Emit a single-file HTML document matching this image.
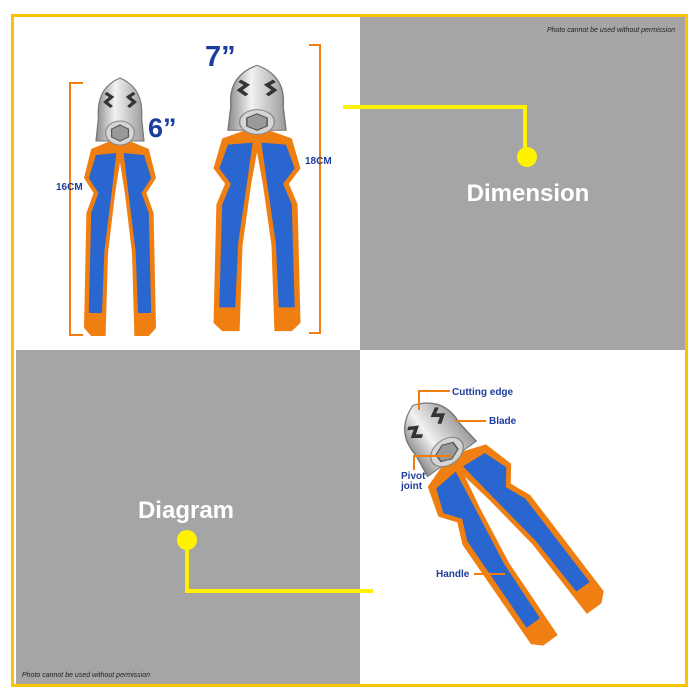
<!DOCTYPE html>
<html><head><style>
html,body{margin:0;padding:0;background:#fff;width:700px;height:700px;overflow:hidden}
svg text{font-family:"Liberation Sans",sans-serif}
</style></head><body>
<svg width="700" height="700" viewBox="0 0 700 700" xmlns="http://www.w3.org/2000/svg">
<defs>
<linearGradient id="steel" x1="0" y1="0" x2="1" y2="0">
<stop offset="0" stop-color="#8a8a8a"/><stop offset="0.4" stop-color="#f2f2f2"/><stop offset="1" stop-color="#9a9a9a"/>
</linearGradient>
<g id="plier">
<path d="M-4,6 L-24,16 L-30,45 L-22,60 L-28,80 L-30,195 L-24,203 L-12,203 L-10,120 L-4,60 L2,14 Z" fill="#f07f12"/>
<path d="M-20,22 L-26,45 L-18,60 L-24,80 L-26,180 L-15,180 L-13,118 L-7,60 L-3,20 Z" fill="#2a66cf"/>
<path d="M4,6 L24,16 L30,45 L22,60 L28,80 L30,195 L24,203 L12,203 L10,120 L4,60 L-2,14 Z" fill="#f07f12"/>
<path d="M20,22 L26,45 L18,60 L24,80 L26,180 L15,180 L13,118 L7,60 L3,20 Z" fill="#2a66cf"/>
<path d="M-18,-15 Q-20,-45 0,-55 Q20,-45 18,-15 L20,8 L-20,8 Z" fill="url(#steel)" stroke="#777" stroke-width="1"/>
<path d="M-12,-40 l5,4 l-5,5 l5,5 M12,-40 l-5,4 l5,5 l-5,5" stroke="#333" stroke-width="3" fill="none"/>
<circle cx="0" cy="0" r="12" fill="#d5d5d5" stroke="#888"/>
<polygon points="0,-8 7,-4 7,4 0,8 -7,4 -7,-4" fill="#999" stroke="#555"/>
</g>
</defs>
<rect x="0" y="0" width="700" height="700" fill="#fff"/>
<rect x="360" y="16" width="325" height="334" fill="#a6a5a6"/>
<rect x="16" y="350" width="344" height="334" fill="#a6a5a6"/>
<rect x="12.5" y="15.5" width="674" height="670" fill="none" stroke="#fcc400" stroke-width="3"/>
<text x="675" y="32" font-size="7" font-style="italic" fill="#222" text-anchor="end">Photo cannot be used without permission</text>
<text x="22" y="677" font-size="7" font-style="italic" fill="#222">Photo cannot be used without permission</text>

<path d="M83,83 H70 V335 H83" fill="none" stroke="#f07f12" stroke-width="2"/>
<path d="M309,45 H320 V333 H309" fill="none" stroke="#f07f12" stroke-width="2"/>
<text x="56" y="190" font-size="10" font-weight="bold" fill="#1c3d9c">16CM</text>
<text x="305" y="164" font-size="10" font-weight="bold" fill="#1c3d9c">18CM</text>
<g transform="translate(120,133) scale(1.2,1)"><use href="#plier"/></g>
<g transform="translate(257,122) scale(1.45,1.03)"><use href="#plier"/></g>
<text x="148" y="137" font-size="27" font-weight="bold" fill="#1c3d9c">6”</text>
<text x="205" y="66" font-size="29" font-weight="bold" fill="#1c3d9c">7”</text>

<path d="M343,107 H525 V155" fill="none" stroke="#fff200" stroke-width="4"/>
<circle cx="527" cy="157" r="10" fill="#fff200"/>
<text x="528" y="201" font-size="24" font-weight="bold" fill="#fff" text-anchor="middle">Dimension</text>
<path d="M187,540 V591 H373" fill="none" stroke="#fff200" stroke-width="4"/>
<circle cx="187" cy="540" r="10" fill="#fff200"/>
<text x="186" y="518" font-size="24" font-weight="bold" fill="#fff" text-anchor="middle">Diagram</text>

<g transform="translate(447,452) rotate(-36) scale(1.5,1.05)"><use href="#plier"/></g>
<path d="M450,391 H419 V410" fill="none" stroke="#f07f12" stroke-width="2"/>
<path d="M486,421 H455" fill="none" stroke="#f07f12" stroke-width="2"/>
<path d="M414,470 V456 H452" fill="none" stroke="#f07f12" stroke-width="2"/>
<path d="M474,574 H505" fill="none" stroke="#f07f12" stroke-width="2"/>
<text x="452" y="395" font-size="10" font-weight="bold" fill="#1c3d9c">Cutting edge</text>
<text x="489" y="424" font-size="10" font-weight="bold" fill="#1c3d9c">Blade</text>
<text x="401" y="479" font-size="10" font-weight="bold" fill="#1c3d9c">Pivot</text>
<text x="401" y="489" font-size="10" font-weight="bold" fill="#1c3d9c">joint</text>
<text x="436" y="577" font-size="10" font-weight="bold" fill="#1c3d9c">Handle</text>
</svg>
</body></html>
